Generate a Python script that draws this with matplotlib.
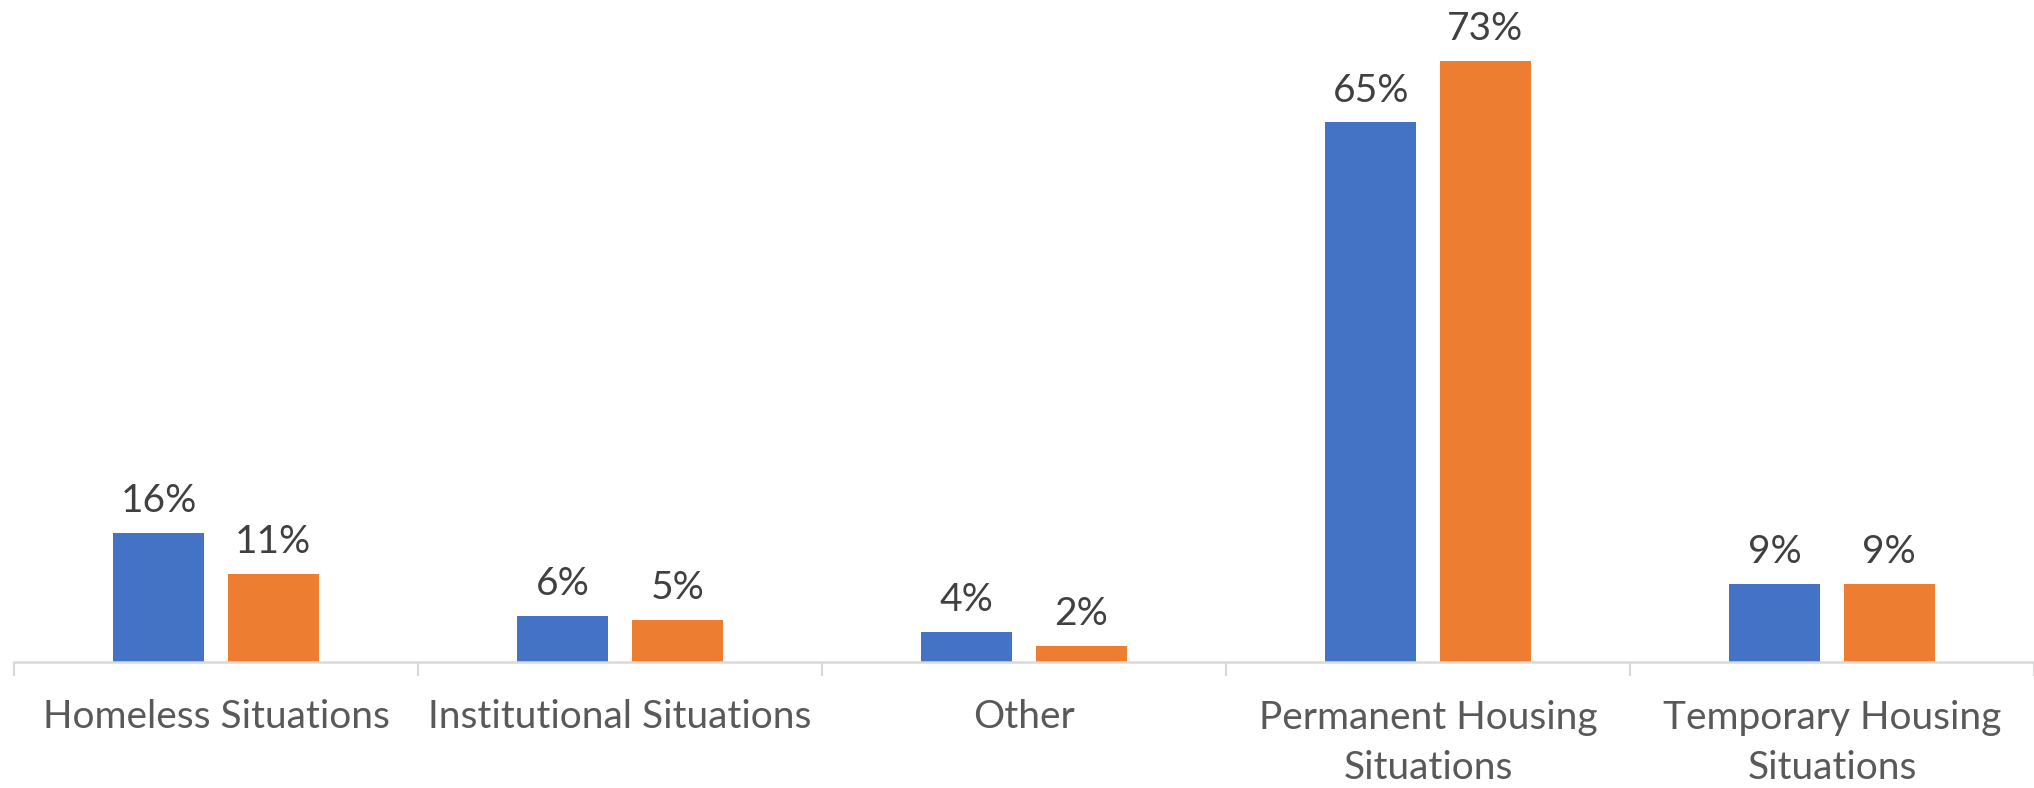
import matplotlib.pyplot as plt
import numpy as np

plt.rcParams['font.family'] = ['Lato', 'DejaVu Sans']

categories = ['Homeless Situations', 'Institutional Situations', 'Other',
              'Permanent Housing\nSituations', 'Temporary Housing\nSituations']
series_a = [15.6, 5.6, 3.6, 65.2, 9.4]
series_b = [10.6, 5.1, 1.9, 72.6, 9.4]

x = np.arange(len(categories))
w = 0.225
off = 0.142

fig = plt.figure(figsize=(20.34, 7.88), dpi=100)
ax = fig.add_axes([14 / 2034, 126 / 788, 1 - 14 / 2034, 662 / 788])

b1 = ax.bar(x - off, series_a, width=w, color='#4472C4')
b2 = ax.bar(x + off, series_b, width=w, color='#ED7D31')

for bars in (b1, b2):
    ax.bar_label(bars, labels=[f'{v:.0f}%' for v in bars.datavalues],
                 padding=10, fontsize=28, color='#404040')

ax.set_xlim(-0.5, len(categories) - 0.5)
ax.set_ylim(0, 80)

# category labels at centres, tick marks at boundaries
ax.set_xticks(x)
ax.set_xticklabels(categories, fontsize=28, color='#595959', linespacing=1.5)
ax.tick_params(axis='x', which='major', length=0, pad=27)
ax.set_xticks(np.arange(len(categories) + 1) - 0.5, minor=True)
ax.tick_params(axis='x', which='minor', length=10, width=1.5, color='#d9d9d9')

ax.set_yticks([])
for s in ['top', 'right', 'left']:
    ax.spines[s].set_visible(False)
ax.spines['bottom'].set_color('#d9d9d9')
ax.spines['bottom'].set_linewidth(1.8)

plt.savefig('out.png', dpi=100)
